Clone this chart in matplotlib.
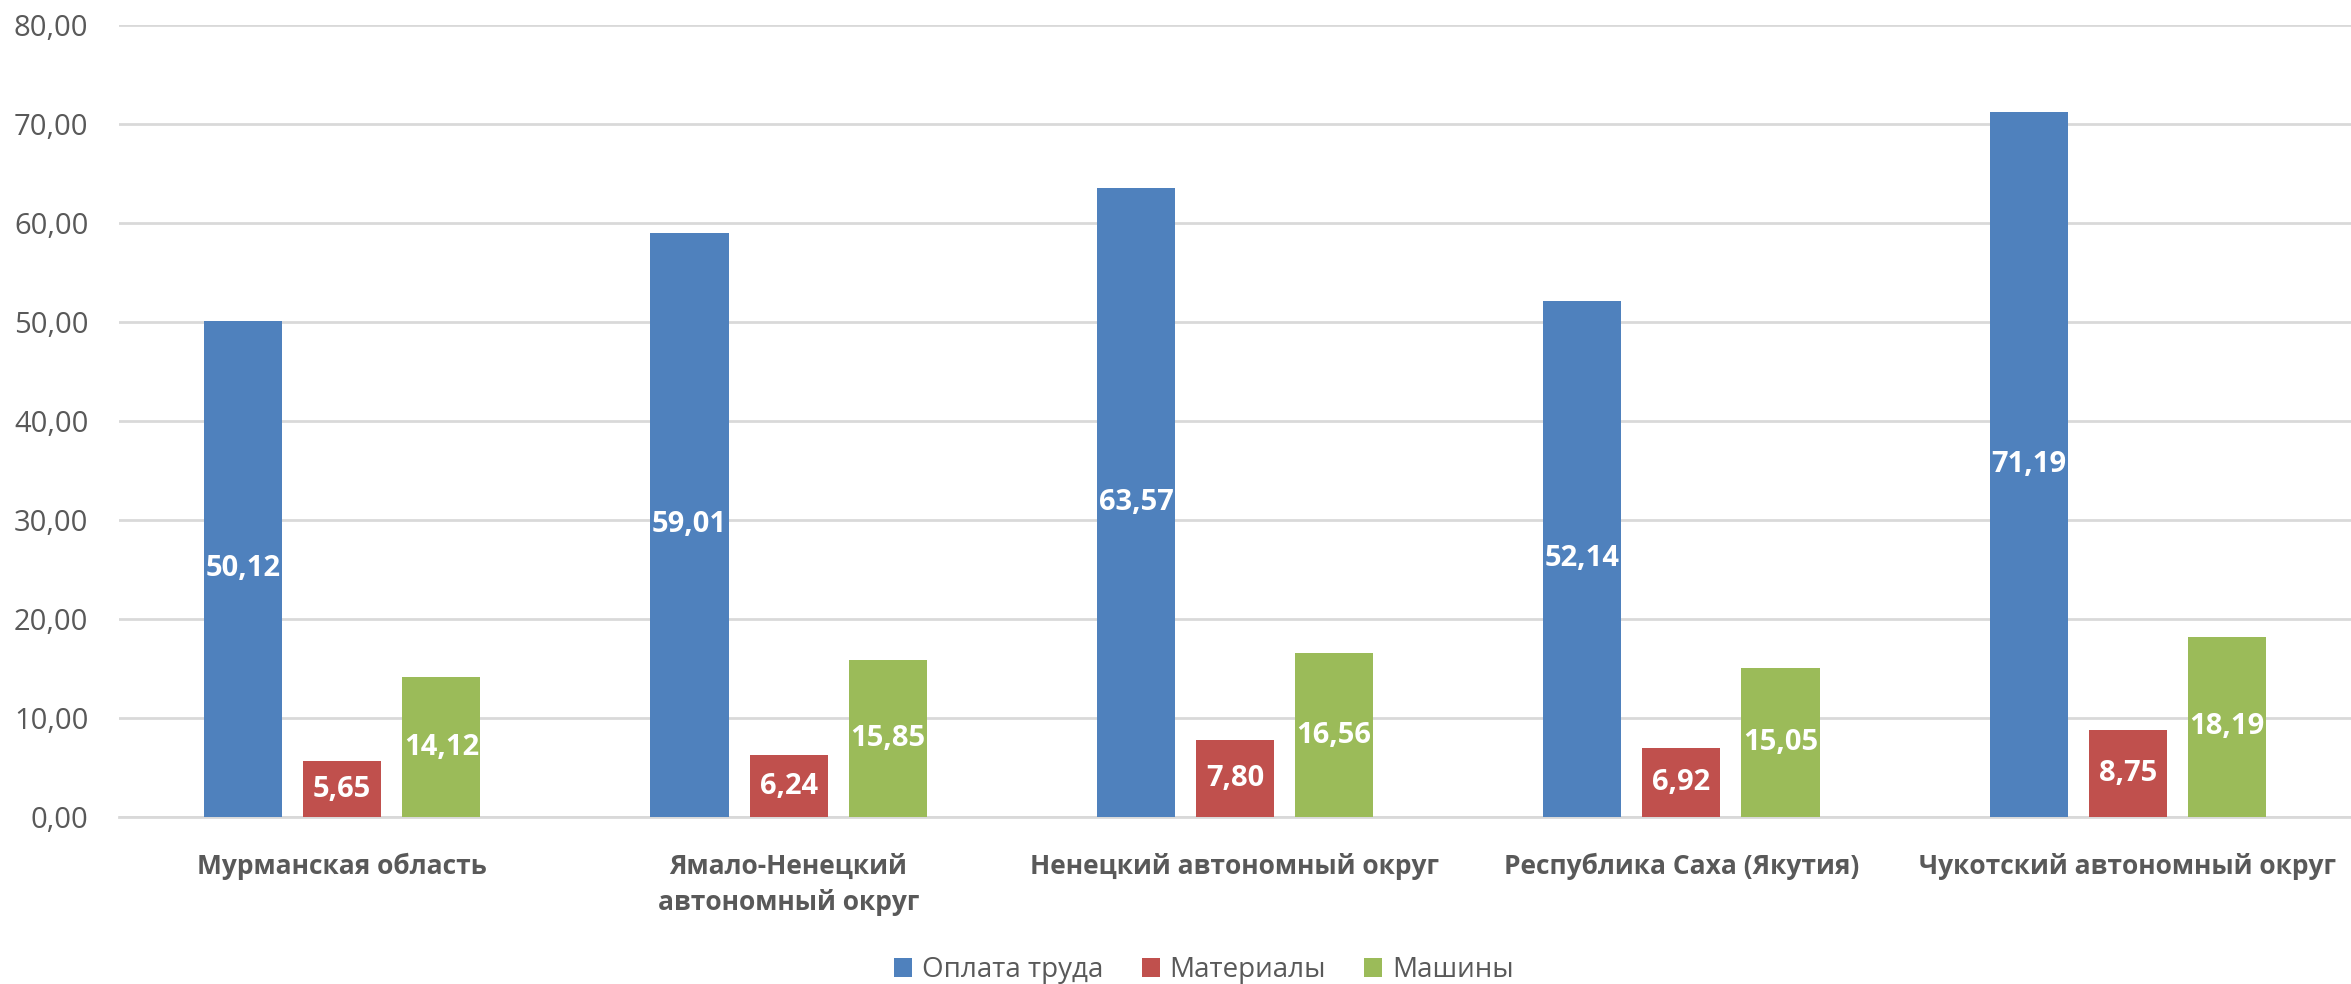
import matplotlib
matplotlib.use("Agg")
import matplotlib.pyplot as plt
import numpy as np

# данные
regions = ['Мурманская область', 'Ямало-Ненецкий\nавтономный округ', 'Ненецкий автономный округ',
           'Республика Саха (Якутия)', 'Чукотский автономный округ']
labor = [50.12, 59.01, 63.57, 52.14, 71.19]
materials = [5.65, 6.24, 7.80, 6.92, 8.75]
machines = [14.12, 15.85, 16.56, 15.05, 18.19]
series_names = ['Оплата труда', 'Материалы', 'Машины']
y_ticks = [0, 10, 20, 30, 40, 50, 60, 70, 80]

colors = ['#4F81BD', '#C0504D', '#9BBB59']
text_gray = '#595959'
grid_gray = '#D9D9D9'

plt.rcParams['font.family'] = ['Open Sans', 'DejaVu Sans']

fig = plt.figure(figsize=(23.51, 9.84), dpi=100)
ax = fig.add_axes([119 / 2351, 1 - 817 / 984, 1 - 119 / 2351, (817 - 25) / 984])

x = np.arange(len(regions))
width = 0.175
step = 0.222
all_series = [labor, materials, machines]
for i, (vals, col, name) in enumerate(zip(all_series, colors, series_names)):
    rects = ax.bar(x + (i - 1) * step, vals, width, color=col, label=name, zorder=3)
    for r in rects:
        h = r.get_height()
        ax.text(r.get_x() + r.get_width() / 2, h / 2, f'{h:.2f}'.replace('.', ','),
                ha='center', va='center', color='white', fontsize=21, fontweight='bold', zorder=4)

ax.set_xlim(-0.5, len(regions) - 0.5)
ax.set_ylim(0, 80)
ax.set_yticks(y_ticks)
ax.set_yticklabels([f'{v:.2f}'.replace('.', ',') for v in y_ticks], fontsize=21, color=text_gray)
ax.yaxis.grid(True, color=grid_gray, linewidth=2, zorder=0)
ax.set_xticks(x)
ax.set_xticklabels(regions, fontsize=19, fontweight='bold', color=text_gray, linespacing=1.4)
ax.tick_params(axis='both', length=0)
ax.tick_params(axis='y', pad=22)
ax.tick_params(axis='x', pad=26)
for s in ['top', 'right', 'left']:
    ax.spines[s].set_visible(False)
ax.spines['bottom'].set_color(grid_gray)
ax.spines['bottom'].set_linewidth(2)

leg = ax.legend(loc='center', ncol=3, frameon=False,
                fontsize=20, handlelength=0.65, handleheight=0.65, handletextpad=0.36,
                columnspacing=1.37, labelcolor=text_gray)
# позиция легенды в координатах фигуры
leg.set_bbox_to_anchor((1204 / 2351, 1 - 970 / 984), transform=fig.transFigure)

fig.savefig('out.png', dpi=100)
